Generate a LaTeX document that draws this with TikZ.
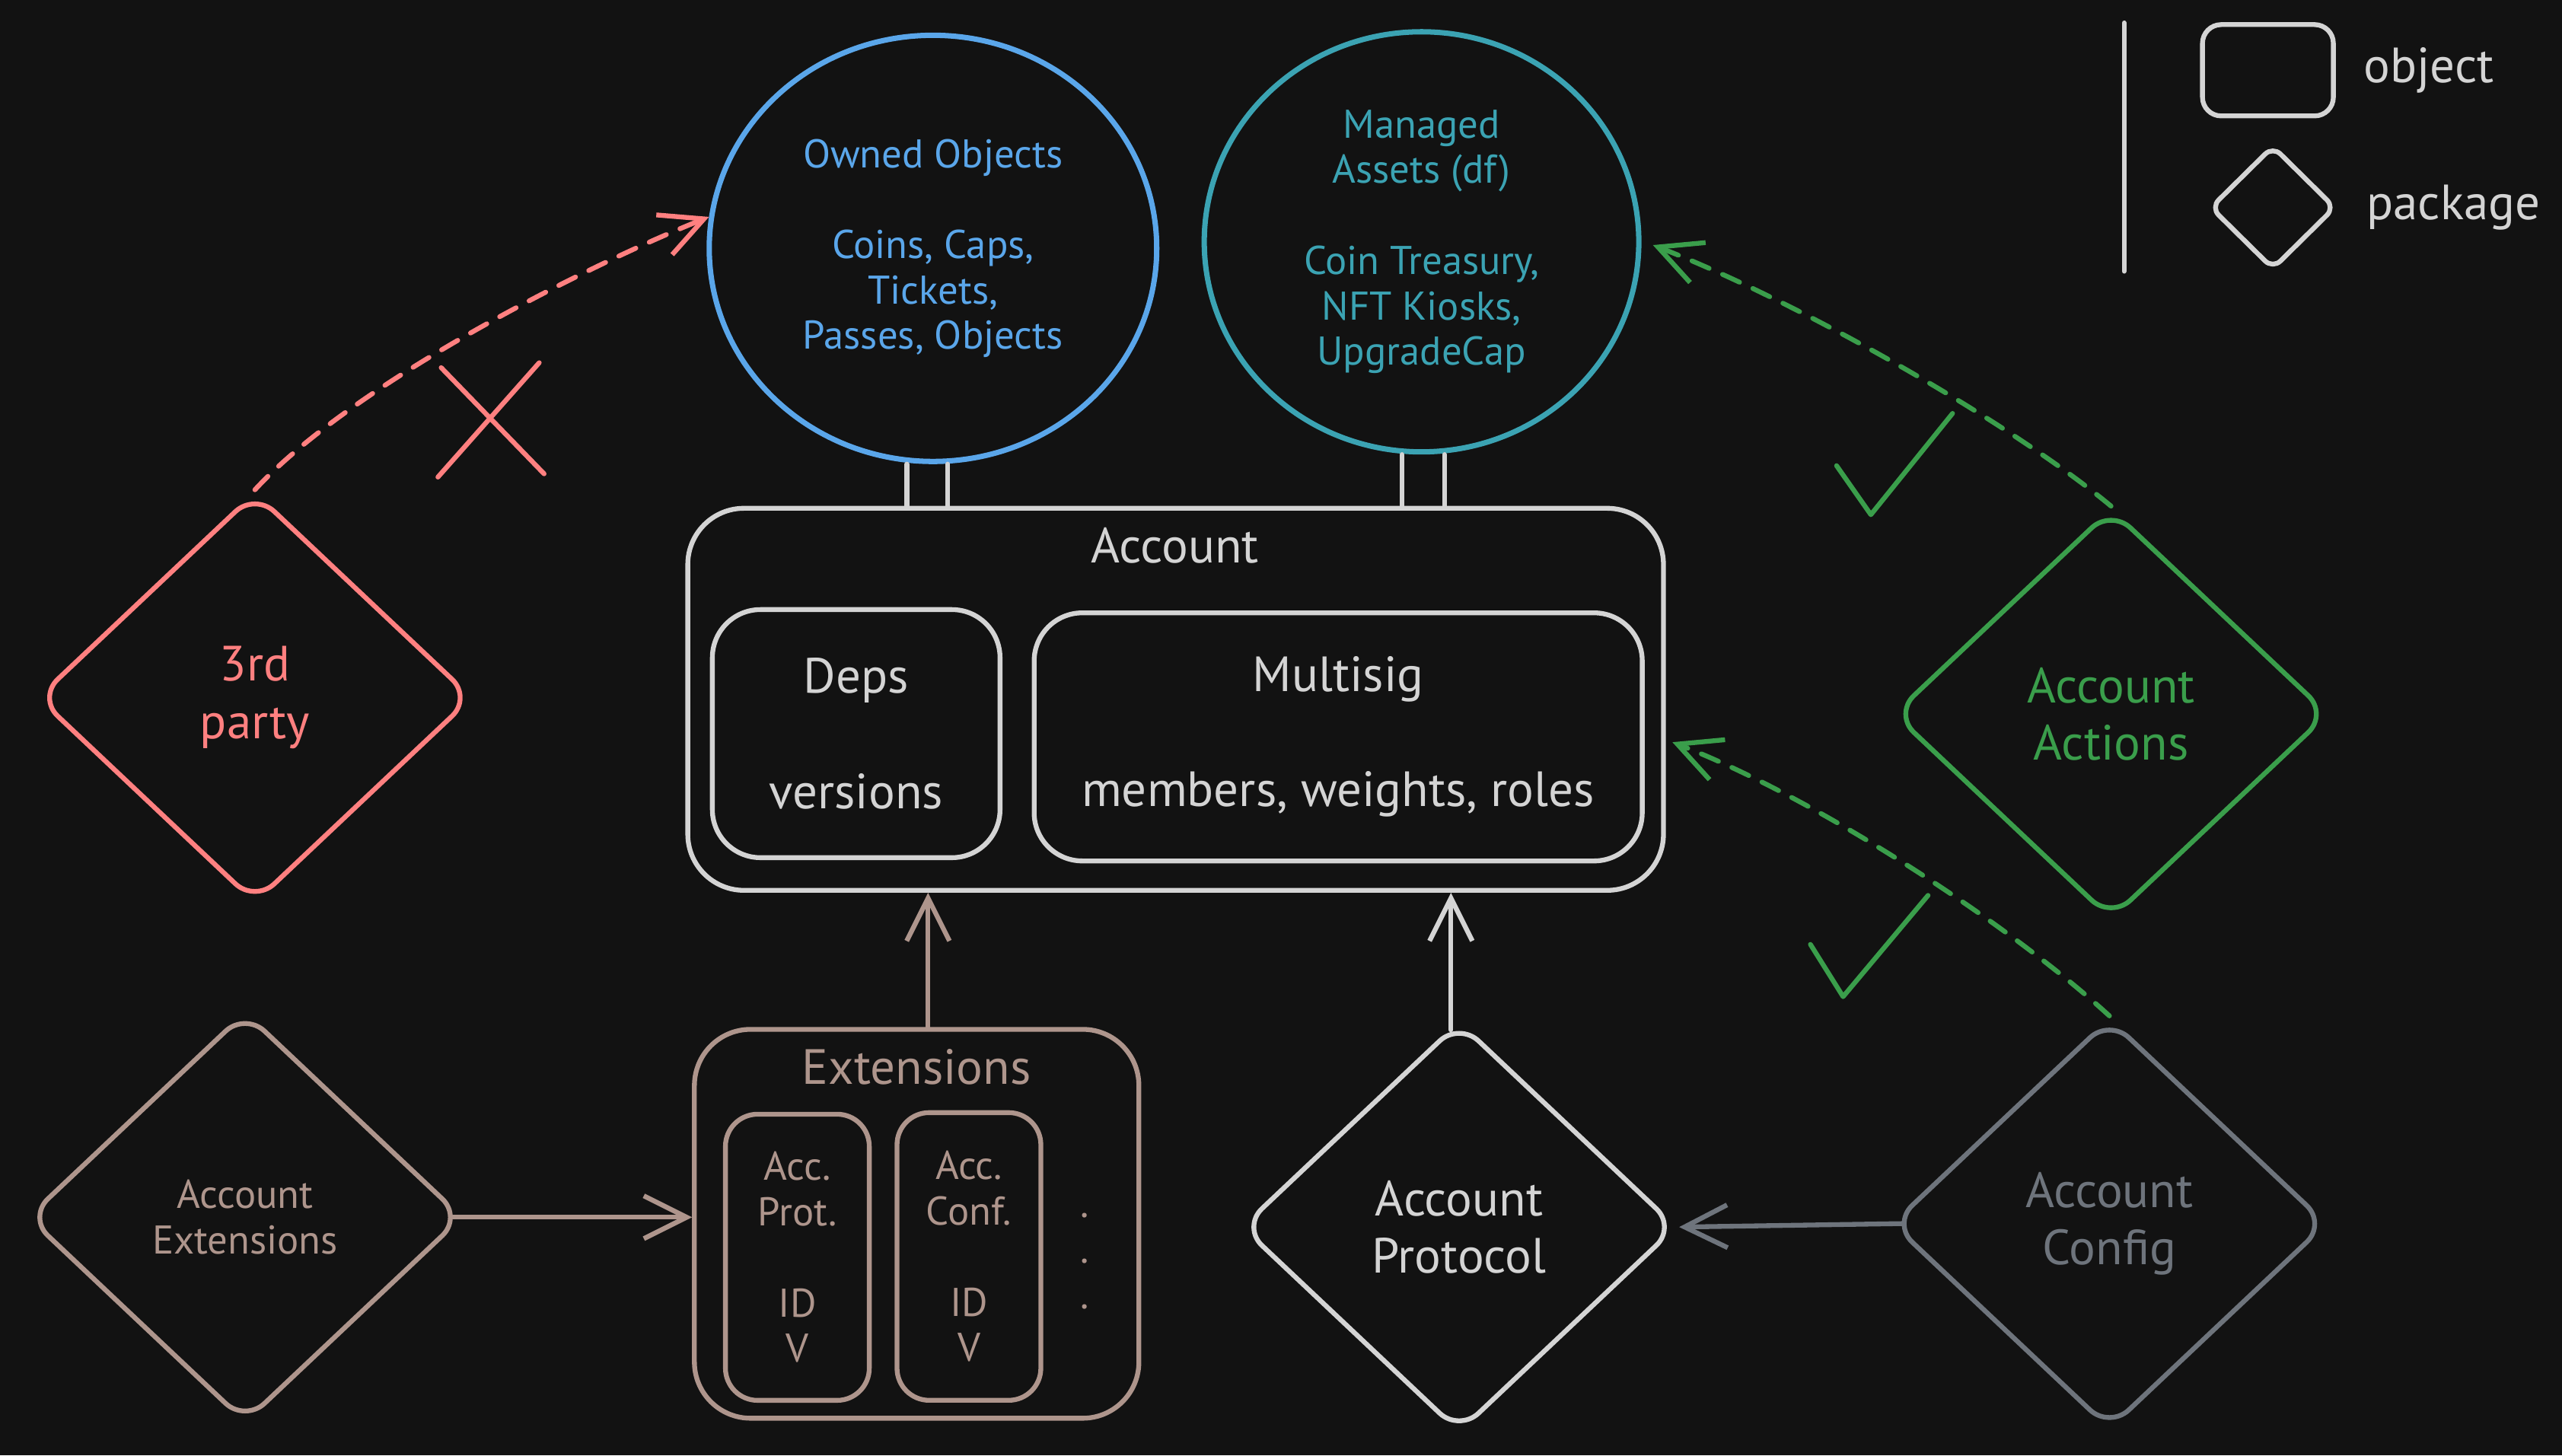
\documentclass[tikz,border=0pt]{standalone}
\usepackage{fontspec}
\setmainfont{PT Sans}
\usetikzlibrary{shapes.geometric,arrows.meta,positioning,calc}

\definecolor{bg}{HTML}{121212}
\definecolor{light}{HTML}{D4D4D4}
\definecolor{ownblue}{HTML}{5AA6EA}
\definecolor{teal}{HTML}{3BA3B3}
\definecolor{pink}{HTML}{FF8080}
\definecolor{leaf}{HTML}{3A9E4B}
\definecolor{clay}{HTML}{AE958C}
\definecolor{slate}{HTML}{6E747C}

\newcommand{\fbig}{\fontsize{18.5}{21.5}\selectfont}
\newcommand{\fsmall}{\fontsize{15}{17}\selectfont}

\tikzset{
  txt/.style={text=#1, font=\fbig, inner sep=0pt, align=center},
  box/.style={draw=#1, text=#1, line width=1.8pt, rounded corners=18pt, inner sep=0pt, align=center, font=\fbig},
  blob/.style={ellipse, draw=#1, text=#1, line width=2pt, inner sep=0pt, align=center, font=\fsmall},
  pkg/.style={diamond, draw=#1, text=#1, line width=1.8pt, rounded corners=10pt, inner sep=0pt, align=center, font=\fbig, minimum width=5.72cm, minimum height=5.40cm},
  link/.style={draw=#1, line width=1.8pt, line cap=round, line join=round},
  arr/.style={link=#1, -{Straight Barb[length=16pt,width=16pt]}},
  dasharr/.style={arr=#1, dash pattern=on 7pt off 5.5pt},
}

\begin{document}
\begin{tikzpicture}[x=0.0214668cm, y=-0.0214668cm]
	\fill[bg] (0,0) rectangle (1568,890.7);
	
	% legend
	\draw[link=light] (1300,14) -- (1300,166);
	\node[box=light, rounded corners=7pt, minimum width=1.72cm, minimum height=1.2cm] (legobj) at (1388,43) {};
	\node[txt=light, right=0.36cm of legobj] (legobjtext) {object};
	\node[pkg=light, rounded corners=4pt, minimum width=1.65cm, minimum height=1.63cm] (legpkg) at (1391,127) {};
	\node[txt=light, right=0.37cm of legpkg] (legpkgtext) {package};
	
	% what the account holds
	\node[blob=ownblue, minimum width=5.88cm, minimum height=5.60cm] (owned) at (571,152)
		{Owned Objects\\[17pt]Coins, Caps,\\Tickets,\\Passes, Objects};
	\node[blob=teal, minimum width=5.71cm, minimum height=5.52cm] (managed) at (870,148)
		{Managed\\Assets (df)\\[17pt]Coin Treasury,\\NFT Kiosks,\\UpgradeCap};
	
	% the account object
	\node[box=light, rounded corners=21pt, minimum width=12.82cm, minimum height=5.02cm] (account) at (719.5,428) {};
	\node[txt=light] (acctitle) at (719,334) {Account};
	\node[box=light, minimum width=3.78cm, minimum height=3.26cm] (deps) at (524,449) {Deps\\[21.5pt]versions};
	\node[box=light, minimum width=7.99cm, minimum height=3.26cm] (multisig) at (819,451) {Multisig\\[21.5pt]members, weights, roles};
	
	% extensions object
	\node[box=clay, rounded corners=21pt, minimum width=5.84cm, minimum height=5.11cm] (ext) at (561,749) {};
	\node[txt=clay] (exttitle) at (561,653) {Extensions};
	\node[box=clay, font=\fsmall, rounded corners=12pt, minimum width=1.89cm, minimum height=3.76cm] (accprot) at (488,769.5)
		{Acc.\\Prot.\\[17pt]ID\\V};
	\node[box=clay, font=\fsmall, rounded corners=12pt, minimum width=1.89cm, minimum height=3.78cm] (accconf) at (593,769)
		{Acc.\\Conf.\\[17pt]ID\\V};
	\node[txt=clay, font=\fsmall] (more) at (664,772) {.\\.\\.};
	
	% packages
	\node[pkg=pink] (third) at (156,427) {3rd\\party};
	\node[pkg=leaf] (actions) at (1292,437) {Account\\Actions};
	\node[pkg=slate] (config) at (1291,749) {Account\\Config};
	\node[pkg=light] (protocol) at (893,751) {Account\\Protocol};
	\node[pkg=clay, font=\fsmall] (accext) at (150,745) {Account\\Extensions};
	
	% dynamic fields on the account
	\coordinate (ownL) at ($(owned.south)+(-16,0)$);
	\coordinate (ownR) at ($(owned.south)+(9,0)$);
	\coordinate (manL) at ($(managed.south)+(-12,0)$);
	\coordinate (manR) at ($(managed.south)+(14,0)$);
	\draw[link=light] (ownL) -- (ownL |- account.north);
	\draw[link=light] (ownR) -- (ownR |- account.north);
	\draw[link=light] (manL) -- (manL |- account.north);
	\draw[link=light] (manR) -- (manR |- account.north);
	
	% solid arrows
	\coordinate (extup) at ($(ext.north)+(7,0)$);
	\coordinate (protup) at ($(protocol.north)+(-5,0)$);
	\draw[arr=clay] (extup) -- (extup |- account.south);
	\draw[arr=light, shorten <=-4pt] (protup) -- (protup |- account.south);
	\draw[arr=clay, shorten <=-5pt] (accext.east) -- (accext.east -| ext.west);
	\draw[arr=slate, shorten <=-5pt] (config.west) -- (protocol.east);
	
	% dashed access arrows
	\draw[dasharr=pink] (third.north) .. controls +(60,-65) and +(-75,30) .. (owned.172);
	\draw[dasharr=leaf] (actions.north) .. controls +(-60,-50) and +(90,35) .. ($(managed.east)+(7,2)$);
	\draw[dasharr=leaf] (config.north) .. controls +(-60,-55) and +(90,35) .. ($(account.-5)+(4,0)$);
	
	% cross and ticks
	\draw[link=pink] (270,225) -- (333,290);
	\draw[link=pink] (268,292) -- (330,222);
	\draw[link=leaf] (1124,285) -- (1145,315) -- (1195,253);
	\draw[link=leaf] (1108,578) -- (1128,610) -- (1180,548);
\end{tikzpicture}
\end{document}
